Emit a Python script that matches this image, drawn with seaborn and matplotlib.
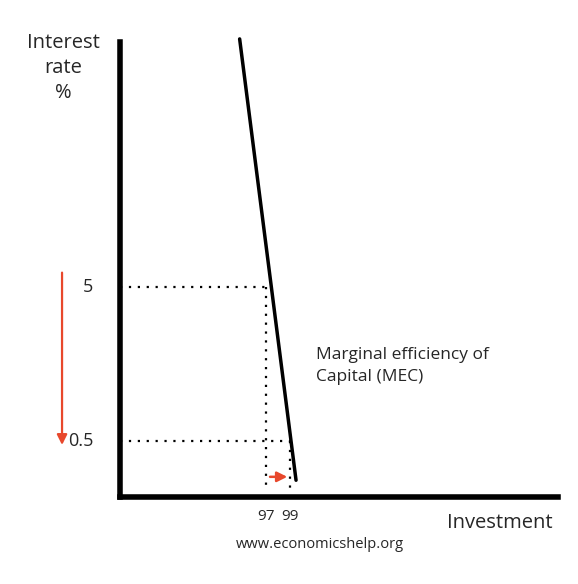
import matplotlib
matplotlib.use("Agg")
import matplotlib.pyplot as plt
import seaborn as sns

# chart values
rates = [5, 0.5]
investment = [97, 99]
rate_labels = ["5", "0.5"]
inv_labels = ["97", "99"]
mec_inv = [94.8, 99.5]
mec_rate = [12.25, -0.65]

sns.set_style("white")
plt.rcParams["font.family"] = ["Open Sans", "DejaVu Sans"]

fig = plt.figure(figsize=(5.78, 5.84), dpi=100)
ax = fig.add_axes([120 / 578, 87 / 584, 438 / 578, 455 / 584])
ax.set_xlim(84.83, 121.33)
ax.set_ylim(-1.14, 12.16)

sns.lineplot(x=mec_inv, y=mec_rate, ax=ax, color="black", lw=2.5, clip_on=False)

for r, i in zip(rates, investment):
    ax.plot([84.83, i], [r, r], ls=(0, (1, 3)), color="black", lw=1.6)
    ax.plot([i, i], [r, -0.9], ls=(0, (1, 3)), color="black", lw=1.6)

for r, lab in zip(rates, rate_labels):
    ax.text(82.6, r, lab, ha="right", va="center", fontsize=13)
for i, lab in zip(investment, inv_labels):
    ax.text(i, -1.5, lab, ha="center", va="top", fontsize=11)

# red arrows showing the shift
ax.annotate("", xy=(investment[1], -0.55), xytext=(investment[0] + 0.1, -0.55),
            arrowprops=dict(arrowstyle="-|>", color="#e8482c", lw=1.8, mutation_scale=15))
ax.annotate("", xy=(80, rates[1] - 0.2), xytext=(80, rates[0] + 0.5),
            arrowprops=dict(arrowstyle="-|>", color="#e8482c", lw=1.6, mutation_scale=15),
            annotation_clip=False)

ax.text(101.2, 2.7, "Marginal efficiency of\nCapital (MEC)", fontsize=12.5, va="center",
        linespacing=1.5)

for s in ["top", "right"]:
    ax.spines[s].set_visible(False)
for s in ["left", "bottom"]:
    ax.spines[s].set_linewidth(4)
    ax.spines[s].set_color("black")
ax.set_xticks([])
ax.set_yticks([])

fig.text(63 / 578, 1 - 68 / 584, "Interest\nrate\n%", ha="center", va="center",
         fontsize=14.5, linespacing=1.3)
fig.text(500 / 578, 1 - 523 / 584, "Investment", ha="center", va="center", fontsize=14.5)
fig.text(320 / 578, 1 - 545 / 584, "www.economicshelp.org", ha="center", va="center",
         fontsize=10.5)

fig.savefig("out.png", dpi=100)
